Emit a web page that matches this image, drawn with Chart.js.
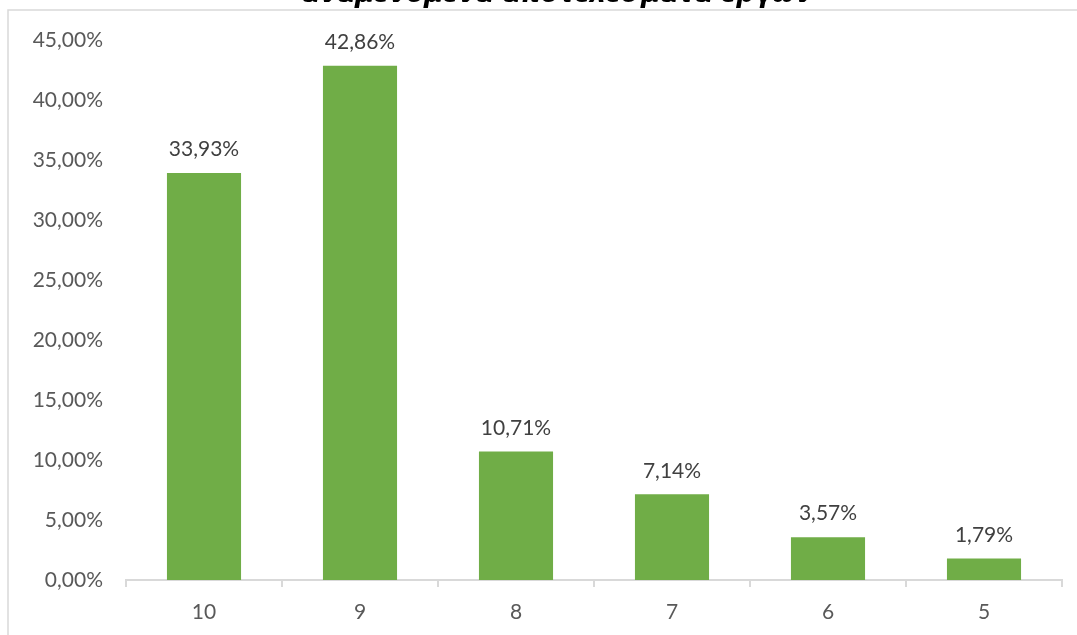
<!DOCTYPE html>
<html>
<head>
<meta charset="utf-8">
<script src="https://cdn.jsdelivr.net/npm/chart.js@4/dist/chart.umd.min.js"></script>
<style>
	html, body { margin: 0; padding: 0; background: #fff; overflow: hidden; }
	#wrap { position: absolute; left: 0; top: -30px; width: 1110px; height: 680px; }
</style>
</head>
<body>
<div id="wrap"><canvas id="gradesBarChart"></canvas></div>
<script>
/* -------------------- data -------------------- */

var chartTitle = 'αναμενόμενα αποτελέσματα έργων';
var grades     = [ '10', '9', '8', '7', '6', '5' ];
var shares     = [ 33.93, 42.86, 10.71, 7.14, 3.57, 1.79 ];

/* -------------------- helpers -------------------- */

var labelFont = { family: 'Lato', size: 21 };

function pct(v, digits) {
	return v.toFixed(digits).replace('.', ',') + '%';
}

// chart-area border like the excel frame
var framePlugin = {
	id: 'frame',
	afterDraw: function(chart) {
		var c = chart.ctx;
		c.save();
		c.strokeStyle = '#D9D9D9';
		c.lineWidth = 1.5;
		c.strokeRect(8, 40, chart.width + 50, chart.height + 50);
		c.restore();
	}
};

// value labels over bars
var valueLabels = {
	id: 'valueLabels',
	afterDatasetsDraw: function(chart) {
		var c = chart.ctx;
		var meta = chart.getDatasetMeta(0);
		c.save();
		c.font = '21px Lato';
		c.fillStyle = '#404040';
		c.textAlign = 'center';
		c.textBaseline = 'bottom';
		meta.data.forEach(function(bar, i) {
			c.fillText(pct(shares[i], 2), bar.x, bar.y - 13);
		});
		c.restore();
	}
};

/* -------------------- chart -------------------- */

var ctx = document.getElementById('gradesBarChart').getContext('2d');

var gradesBarChart = new Chart(ctx, {
	type: 'bar',
	data: {
		labels: grades,
		datasets: [{
			data: shares,
			backgroundColor: '#70AD47',
			borderWidth: 0,
			barPercentage: 0.475,
			categoryPercentage: 1
		}]
	},
	options: {
		responsive: true,
		maintainAspectRatio: false,
		animation: false,
		layout: {
			padding: { left: 8, right: 4, top: 0, bottom: 15 }
		},
		plugins: {
			legend: { display: false },
			tooltip: { enabled: false },
			title: {
				display: true,
				text: chartTitle,
				color: '#000',
				font: { family: 'DejaVu Sans', size: 26, weight: 'bold', style: 'italic' },
				padding: { top: 10, bottom: 29 }
			}
		},
		scales: {
			x: {
				grid: {
					display: true,
					offset: true,
					drawOnChartArea: false,
					drawTicks: true,
					tickLength: 7,
					color: '#D9D9D9',
					lineWidth: 2
				},
				border: { display: true, color: '#D9D9D9', width: 2 },
				ticks: {
					color: '#595959',
					font: labelFont,
					padding: 13
				},
				afterFit: function(s) { s.height = 55; }
			},
			y: {
				min: 0,
				max: 45,
				ticks: {
					stepSize: 5,
					color: '#595959',
					font: labelFont,
					padding: 23,
					callback: function(v) { return pct(v, 2); }
				},
				grid: { display: false, drawTicks: false },
				border: { display: false },
				afterFit: function(s) { s.width = 118; }
			},
			// empty right gutter, only keeps the title centred on the frame
			gutter: {
				type: 'linear',
				position: 'right',
				min: 0,
				max: 1,
				ticks: { display: false },
				grid: { display: false, drawTicks: false },
				border: { display: false },
				afterFit: function(s) { s.width = 44; }
			}
		}
	},
	plugins: [ framePlugin, valueLabels ]
});
</script>
</body>
</html>
